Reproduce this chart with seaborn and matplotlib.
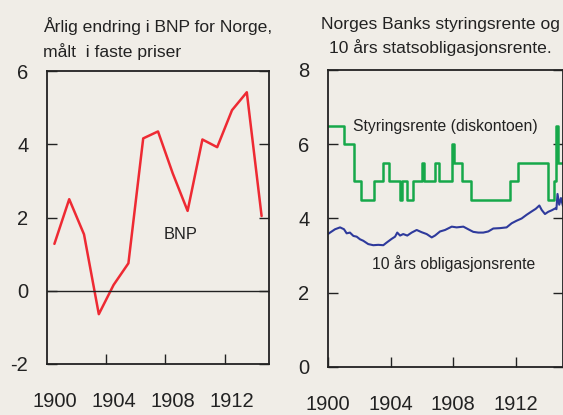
import numpy as np
import pandas as pd
import matplotlib
matplotlib.use("Agg")
import matplotlib.pyplot as plt
import seaborn as sns

# --- data ---
bnp_years = [1900, 1901, 1902, 1903, 1904, 1905, 1906, 1907, 1908, 1909, 1910, 1911, 1912, 1913, 1914]
bnp_growth = [1.28, 2.50, 1.54, -0.64, 0.16, 0.75, 4.16, 4.35, 3.20, 2.18, 4.13, 3.92, 4.93, 5.42, 2.04]

# discount rate: date of change -> new level
rate_dates = [1900.0, 1901.0, 1901.65, 1902.12, 1902.95, 1903.48, 1903.87, 1904.58, 1904.72,
              1905.02, 1905.45, 1905.97, 1906.1, 1906.8, 1907.1, 1907.92, 1908.02, 1908.57,
              1909.12, 1911.6, 1912.15, 1914.02, 1914.42, 1914.56, 1914.66, 1915.0]
rate_levels = [6.5, 6.0, 5.0, 4.5, 5.0, 5.5, 5.0, 4.5, 5.0,
               4.5, 5.0, 5.5, 5.0, 5.5, 5.0, 6.0, 5.5, 5.0,
               4.5, 5.0, 5.5, 4.5, 5.0, 6.5, 5.5, 5.5]

# 10 year government bond yield
bond_dates = [1900.0, 1900.13, 1900.45, 1900.77, 1901.02, 1901.19, 1901.4, 1901.62, 1901.83, 1902.04,
              1902.25, 1902.57, 1902.89, 1903.21, 1903.53, 1903.74, 1904.06, 1904.28, 1904.42, 1904.6,
              1904.8, 1905.06, 1905.34, 1905.66, 1905.98, 1906.3, 1906.62, 1906.83, 1907.15, 1907.47,
              1907.9, 1908.21, 1908.64, 1908.95, 1909.27, 1909.59, 1909.91, 1910.23, 1910.55, 1910.98,
              1911.4, 1911.72, 1912.04, 1912.36, 1912.68, 1913.0, 1913.26, 1913.49, 1913.64, 1913.85,
              1914.06, 1914.28, 1914.5, 1914.58, 1914.65, 1914.76, 1914.87, 1915.0]
bond_yield = [3.58, 3.62, 3.71, 3.76, 3.71, 3.60, 3.62, 3.53, 3.51, 3.44,
              3.40, 3.31, 3.28, 3.29, 3.28, 3.35, 3.45, 3.51, 3.62, 3.54,
              3.58, 3.54, 3.62, 3.69, 3.63, 3.58, 3.49, 3.54, 3.65, 3.69,
              3.78, 3.76, 3.78, 3.71, 3.64, 3.62, 3.62, 3.65, 3.73, 3.74,
              3.76, 3.87, 3.94, 4.00, 4.10, 4.19, 4.26, 4.35, 4.23, 4.12,
              4.18, 4.22, 4.27, 4.25, 4.66, 4.37, 4.55, 4.33]

year_labels = ["1900", "1904", "1908", "1912"]
left_title = "Årlig endring i BNP for Norge,\nmålt  i faste priser"
right_title = "Norges Banks styringsrente og\n10 års statsobligasjonsrente."

bg = "#f0ede7"
red = "#ee2a33"
green = "#16a84a"
blue = "#2e3a9c"
ink = "#222222"

sns.set_theme(style="ticks")
plt.rcParams["font.family"] = ["Liberation Sans", "DejaVu Sans"]
plt.rcParams["axes.unicode_minus"] = False
plt.rcParams["axes.edgecolor"] = ink
plt.rcParams["text.color"] = ink
plt.rcParams["xtick.color"] = ink
plt.rcParams["ytick.color"] = ink

fig = plt.figure(figsize=(5.63, 4.15), dpi=100, facecolor=bg)
ax1 = fig.add_axes([0.0835, 0.1229, 0.3943, 0.706])
ax2 = fig.add_axes([0.5826, 0.1157, 0.4174, 0.7157])

for ax in (ax1, ax2):
    ax.set_facecolor(bg)
    for s in ax.spines.values():
        s.set_visible(True)
        s.set_linewidth(1.3)
    ax.tick_params(axis="both", which="both", direction="in", labelsize=14.5,
                   left=True, right=True, top=False, bottom=True, length=7, width=1.0)
    ax.tick_params(axis="x", pad=20)
    ax.tick_params(axis="y", pad=13.5)

# --- left panel: GDP growth ---
df_bnp = pd.DataFrame({"year": np.array(bnp_years) + 0.5, "growth": bnp_growth})
sns.lineplot(data=df_bnp, x="year", y="growth", ax=ax1, color=red, linewidth=1.8)
ax1.axhline(0, color=ink, linewidth=1.0)
ax1.set_xlim(1900, 1915)
ax1.set_ylim(-2, 6)
ax1.set_yticks([-2, 0, 2, 4, 6])
ax1.set_xticks([1900.5, 1904.5, 1908.5, 1912.5])
ax1.set_xticklabels(year_labels)
ax1.set_xticks([1904, 1908, 1912], minor=True)
ax1.tick_params(axis="x", which="major", length=0)
ax1.tick_params(axis="x", which="minor", length=7)
ax1.tick_params(axis="y", which="minor", left=False, right=False)
ax1.set_xlabel("")
ax1.set_ylabel("")
ax1.text(1907.85, 1.53, "BNP", fontsize=11.8, va="center")
fig.text(43 / 563, 1 - 38.5 / 415, left_title, fontsize=12.6, ha="left", va="center",
         linespacing=1.55)

# --- right panel: interest rates ---
df_rate = pd.DataFrame({"date": rate_dates, "rate": rate_levels})
df_bond = pd.DataFrame({"date": bond_dates, "yield": bond_yield})
sns.lineplot(data=df_rate, x="date", y="rate", ax=ax2, color=green, linewidth=1.8,
             drawstyle="steps-post", estimator=None)
sns.lineplot(data=df_bond, x="date", y="yield", ax=ax2, color=blue, linewidth=1.5,
             estimator=None)
ax2.set_xlim(1900, 1915)
ax2.set_ylim(0, 8)
ax2.set_yticks([0, 2, 4, 6, 8])
ax2.set_xticks([1900, 1904, 1908, 1912])
ax2.set_xticklabels(year_labels)
ax2.set_xlabel("")
ax2.set_ylabel("")
ax2.text(1901.6, 6.47, "Styringsrente (diskontoen)", fontsize=11.3, va="center")
ax2.text(1902.8, 2.8, "10 års obligasjonsrente", fontsize=11.3, va="center")
fig.text(440 / 563, 1 - 36.5 / 415, right_title, fontsize=12.6, ha="center", va="center",
         linespacing=1.55)

fig.savefig("out.png", dpi=100, facecolor=bg)
